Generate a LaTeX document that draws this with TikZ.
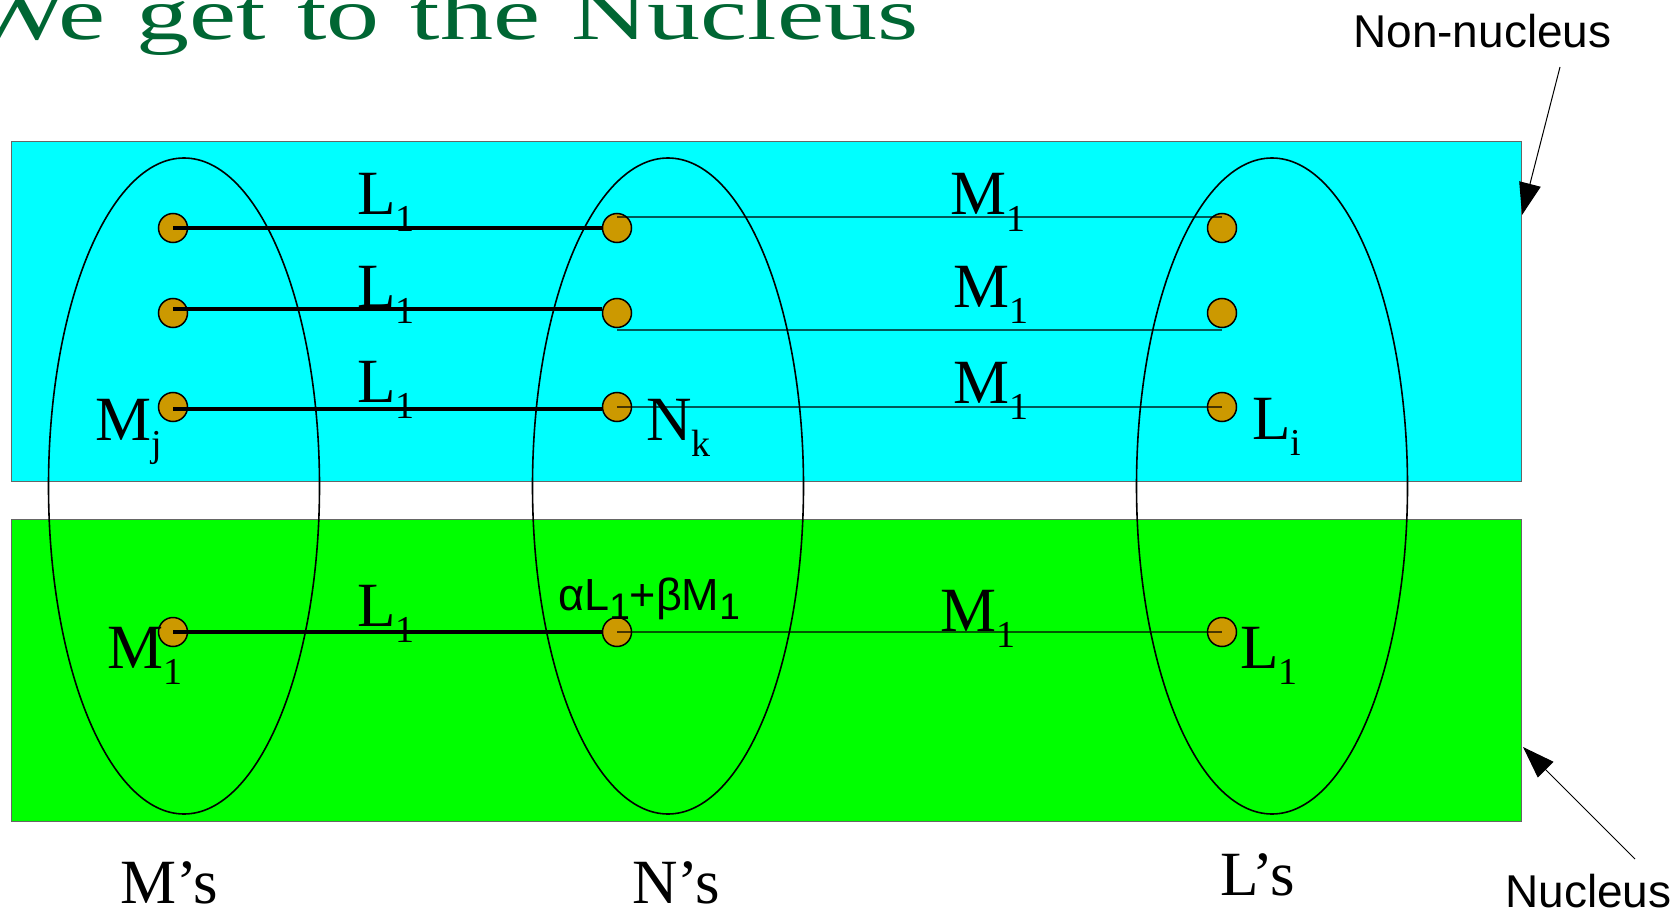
\documentclass[tikz,border=0pt]{standalone}
\usepackage{fontspec}
\setmainfont{Liberation Serif}
\newfontfamily\sansf{Liberation Sans}
\usetikzlibrary{shapes.geometric,arrows.meta}
\definecolor{cyanbg}{RGB}{0,255,255}
\definecolor{greenbg}{RGB}{0,255,0}
\definecolor{dotfill}{RGB}{204,153,0}
\definecolor{titlegreen}{RGB}{0,102,51}
\newcommand\lsub[1]{\raisebox{-0.26em}{\fontsize{38}{38}\selectfont #1}}
\newcommand\ssub[1]{\raisebox{-0.22em}{\fontsize{37}{37}\selectfont #1}}
\begin{document}
\begin{tikzpicture}[x=1pt,y=-1pt,
  dotn/.style={circle, draw=black, line width=1.5pt, fill=dotfill, minimum size=29pt, inner sep=0pt},
  grp/.style={ellipse, draw=black, line width=1.6pt, minimum width=271pt, minimum height=656pt, inner sep=0pt},
  band/.style={rectangle, draw=black!60, line width=1.2pt, inner sep=0pt, anchor=north west, minimum width=1510pt},
  strong/.style={line width=4pt, black},
  weak/.style={line width=1.4pt, black, opacity=0.65},
  lab/.style={anchor=base west, inner sep=0pt, font=\fontsize{63}{63}\selectfont},
  slab/.style={anchor=base west, inner sep=0pt, font=\sansf\fontsize{46}{46}\selectfont},
  pointer/.style={line width=1pt, -{Triangle[length=32pt, width=22pt]}}
]
\useasboundingbox (0,0) rectangle (1678,917);
% title (cut by the top and left edges, as in the reference)
\begin{scope}
\clip (0,0) rectangle (1678,917);
\node[anchor=base west, inner sep=0pt, text=titlegreen] (title) at (-33,40)
  {\scalebox{1}[0.7]{\fontsize{106}{106}\selectfont\spaceskip=31pt\relax We get to the Nucleus}};
\end{scope}
% bands
\node[band, fill=cyanbg, minimum height=340pt] (upper) at (11,141) {};
\node[band, fill=greenbg, minimum height=302pt] (lower) at (11,519) {};
% groups
\node[grp] (Mg) at (184,486) {};
\node[grp] (Ng) at (668,486) {};
\node[grp] (Lg) at (1272,486) {};
% dots
\node[dotn] (m1) at (173,228) {};
\node[dotn] (m2) at (173,313) {};
\node[dotn] (m3) at (173,407) {};
\node[dotn] (m4) at (173,632) {};
\node[dotn] (n1) at (617,228) {};
\node[dotn] (n2) at (617,313) {};
\node[dotn] (n3) at (617,407) {};
\node[dotn] (n4) at (617,632) {};
\node[dotn] (l1) at (1222,228) {};
\node[dotn] (l2) at (1222,313) {};
\node[dotn] (l3) at (1222,407) {};
\node[dotn] (l4) at (1222,632) {};
% strong links
\draw[strong] (m1.center) -- (n1.west);
\draw[strong] ([yshift=4pt]m2.center) -- ([yshift=4pt]n2.west);
\draw[strong] ([yshift=-2pt]m3.center) -- ([yshift=-2pt]n3.west);
\draw[strong] (m4.center) -- (n4.west);
% weak links
\draw[weak] ([yshift=11pt]n1.center) -- ([yshift=11pt]l1.center);
\draw[weak] ([yshift=-17pt]n2.center) -- ([yshift=-17pt]l2.center);
\draw[weak] (n3.center) -- (l3.center);
\draw[weak] (n4.center) -- (l4.center);
% link labels
\node[lab] (a1) at (357,215) {L\lsub{1}};
\node[lab] (a2) at (357,307) {L\lsub{1}};
\node[lab] (a3) at (357,402) {L\lsub{1}};
\node[lab] (a4) at (357,626) {L\lsub{1}};
\node[lab] (b1) at (950,215) {M\lsub{1}};
\node[lab] (b2) at (953,307) {M\lsub{1}};
\node[lab] (b3) at (953,403) {M\lsub{1}};
\node[lab] (b4) at (940,631) {M\lsub{1}};
% point labels
\node[lab] (mj) at (95,440) {M\lsub{j}};
\node[lab] (nk) at (646,440) {N\lsub{k}};
\node[lab] (li) at (1252,439) {L\lsub{i}};
\node[lab] (mone) at (107,668) {M\lsub{1}};
\node[lab] (lone) at (1240,668) {L\lsub{1}};
\node[anchor=base west, inner sep=0pt, font=\sansf\fontsize{45}{45}\selectfont] (mix) at (558,610) {αL\ssub{1}+βM\ssub{1}};
% column labels
\node[lab] (ms) at (120,903) {M’s};
\node[lab] (ns) at (632,903) {N’s};
\node[lab] (ls) at (1220,895) {L’s};
% band labels
\node[slab] (nonnuc) at (1353,48) {Non-nucleus};
\node[slab] (nuc) at (1505,907) {Nucleus};
\coordinate (nnfrom) at (1560,67);
\coordinate (nnto) at (1522,215);
\coordinate (nfrom) at (1635,859);
\coordinate (nto) at (1523,747);
\draw[pointer] (nnfrom) -- (nnto);
\draw[pointer] (nfrom) -- (nto);
\end{tikzpicture}
\end{document}
